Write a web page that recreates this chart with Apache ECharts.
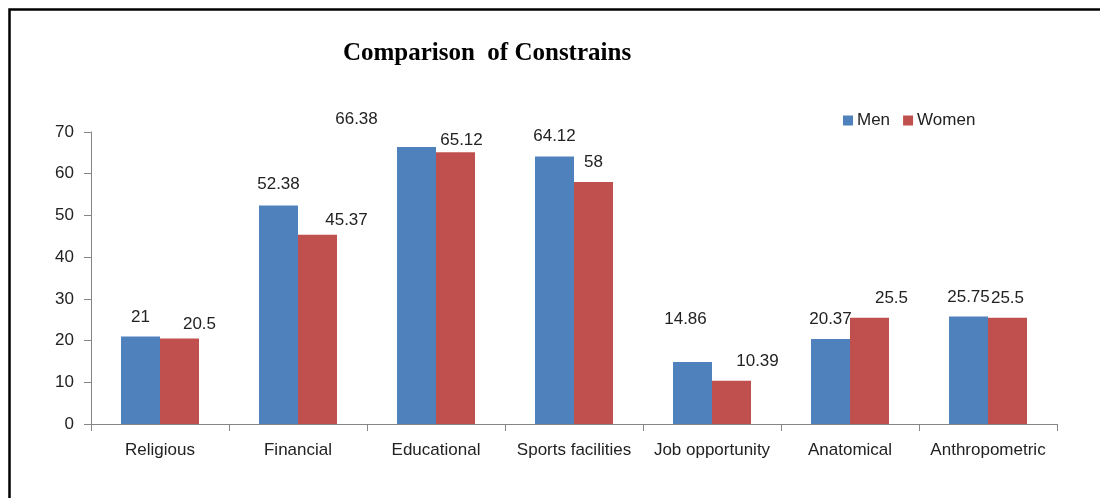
<!DOCTYPE html>
<html>
<head>
<meta charset="utf-8">
<script src="https://cdn.jsdelivr.net/npm/echarts@6/dist/echarts.min.js"></script>
<style>
html,body{margin:0;padding:0;background:#fff;}
#chart{width:1100px;height:498px;}
</style>
</head>
<body>
<div id="chart"></div>
<script>
const categories = ['Religious','Financial','Educational','Sports facilities','Job opportunity','Anatomical','Anthropometric'];
const menValues = [21, 52.38, 66.38, 64.12, 14.86, 20.37, 25.75];
const womenValues = [20.5, 45.37, 65.12, 58, 10.39, 25.5, 25.5];
const yTicks = [0, 10, 20, 30, 40, 50, 60, 70];

// label nudges (as placed in the original chart), in px
const menLabelOffsets = [[0,0],[0,-2],[-60,-8],[0,-1],[-7,-23],[0,0],[0,0]];
const womenLabelOffsets = [[20,5],[29,5],[6,7],[0,0],[26,0],[22,0],[0,0]];

const FONT = 'Liberation Sans';
const chart = echarts.init(document.getElementById('chart'));

function buildData(values, offsets) {
  return values.map((v, i) => ({ value: v, label: { offset: offsets[i] } }));
}

const labelStyle = {
  show: true, position: 'top', distance: 11,
  fontFamily: FONT, fontSize: 17, color: '#222'
};

chart.setOption({
  animation: false,
  graphic: [{
    type: 'rect', left: 7, top: 7,
    shape: { width: 1200, height: 600 },
    style: { fill: 'none', stroke: '#000', lineWidth: 2.5 },
    silent: true
  }],
  title: {
    text: 'Comparison  of Constrains',
    left: 482, top: 36, textAlign: 'center',
    textStyle: { fontFamily: 'Liberation Serif', fontWeight: 'bold', fontSize: 25, color: '#000' }
  },
  legend: {
    left: 843, top: 112, padding: 0,
    itemWidth: 10, itemHeight: 10, itemGap: 13,
    icon: 'rect',
    textStyle: { fontFamily: FONT, fontSize: 17, color: '#222', padding: [0,0,0,-1] },
    data: ['Men', 'Women']
  },
  grid: { left: 91, right: 43, top: 132, bottom: 74 },
  xAxis: {
    type: 'category', data: categories,
    axisLine: { lineStyle: { color: '#868686', width: 1 } },
    axisTick: { show: true, length: 7, lineStyle: { color: '#868686' } },
    axisLabel: { fontFamily: FONT, fontSize: 17, color: '#222', margin: 18, interval: 0 }
  },
  yAxis: {
    type: 'value', min: yTicks[0], max: yTicks[yTicks.length - 1], interval: 10,
    splitLine: { show: false },
    axisLine: { show: true, lineStyle: { color: '#868686', width: 1 } },
    axisTick: { show: true, length: 7, lineStyle: { color: '#868686' } },
    axisLabel: { fontFamily: FONT, fontSize: 17, color: '#222', margin: 17 }
  },
  series: [
    {
      name: 'Men', type: 'bar', barWidth: 39, barGap: '0%',
      itemStyle: { color: '#4F81BD' },
      label: labelStyle,
      data: buildData(menValues, menLabelOffsets)
    },
    {
      name: 'Women', type: 'bar', barWidth: 39, barGap: '0%',
      itemStyle: { color: '#C0504D' },
      label: labelStyle,
      data: buildData(womenValues, womenLabelOffsets)
    }
  ]
});
</script>
</body>
</html>
